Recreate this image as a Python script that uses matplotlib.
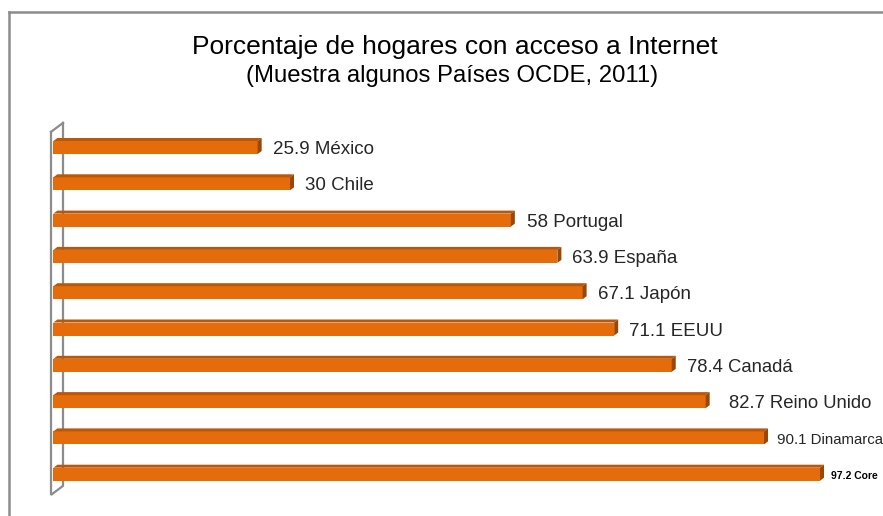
import matplotlib
matplotlib.use("Agg")
import matplotlib.pyplot as plt
from matplotlib.patches import Polygon
from matplotlib.lines import Line2D

# ---- data ----
countries = ["México", "Chile", "Portugal", "España", "Japón", "EEUU",
             "Canadá", "Reino Unido", "Dinamarca", "Core"]
values = [25.9, 30, 58, 63.9, 67.1, 71.1, 78.4, 82.7, 90.1, 97.2]
value_labels = ["25.9", "30", "58", "63.9", "67.1", "71.1", "78.4", "82.7", "90.1", "97.2"]
title = "Porcentaje de hogares con acceso a Internet"
subtitle = "(Muestra algunos Países OCDE, 2011)"

# ---- style ----
W, H, DPI = 883, 516, 100
FRONT = "#E46C0A"
TOP = "#B9580A"
SIDE = "#9A4706"
GRAY = "#8C8C8C"
TXT = "#262626"
sans = ["Liberation Sans", "DejaVu Sans"]
label_sizes = [13.5, 13.5, 13.5, 13.5, 13.5, 13.5, 13.3, 13.3, 10.8, 7.5]
gaps_px = [11, 11, 12, 11, 11, 11, 11, 19, 9, 7]

fig = plt.figure(figsize=(W / DPI, H / DPI), dpi=DPI)
fig.patch.set_facecolor("white")

# pixel geometry
x0_px, px_per_unit = 53.4, 7.887
y0_px, px_per_cat = 147.5, 36.3
ax = fig.add_axes([0, 0, 1, 1])
ax.set_xlim(-x0_px / px_per_unit, (W - x0_px) / px_per_unit)
ax.set_ylim((H - y0_px) / px_per_cat, -y0_px / px_per_cat)
ax.axis("off")

dx = 4 / px_per_unit
dy = 3 / px_per_cat
bh = 13 / px_per_cat

# 3D wall
wl_x = -2.4 / px_per_unit
wdx = 12 / px_per_unit
wdy = 9 / px_per_cat
yt, yb = -0.43, 9.57
ax.plot([wl_x, wl_x, wl_x + wdx, wl_x + wdx], [yt, yb, yb - wdy, yt - wdy],
        color=GRAY, lw=1.6, solid_joinstyle="miter", zorder=1)
ax.plot([wl_x, wl_x + wdx], [yt, yt - wdy], color=GRAY, lw=1.6, zorder=1)

pos = list(range(len(values)))
ax.barh(pos, values, height=bh, left=0, color=FRONT, edgecolor="none", zorder=3)
for p, v in zip(pos, values):
    top = p - bh / 2
    bot = p + bh / 2
    ax.add_patch(Polygon([(0, top), (dx, top - dy), (v + dx, top - dy), (v, top)],
                         closed=True, facecolor=TOP, edgecolor="none", zorder=3))
    ax.add_patch(Polygon([(v, top), (v + dx, top - dy), (v + dx, bot - dy), (v, bot)],
                         closed=True, facecolor=SIDE, edgecolor="none", zorder=3))

for p, v, lab, c, g, fs in zip(pos, values, value_labels, countries, gaps_px, label_sizes):
    small = (c == "Core")
    ax.text(v + dx + g / px_per_unit, p + 2 / px_per_cat, f"{lab} {c}",
            ha="left", va="center", fontsize=fs,
            family=sans, color="#000000" if small else TXT,
            fontweight="bold" if small else "normal", zorder=4)

# outer frame (extends beyond right and bottom)
fig.add_artist(Line2D([9 / W, 9 / W], [0, 1 - 12 / H], color=GRAY, lw=1.8,
                      transform=fig.transFigure))
fig.add_artist(Line2D([9 / W, 1], [1 - 12 / H, 1 - 12 / H], color=GRAY, lw=1.8,
                      transform=fig.transFigure))

fig.text(455 / W, 1 - 47 / H, title, ha="center", va="center", fontsize=19,
         family=sans, color="#000000")
fig.text(452 / W, 1 - 76 / H, subtitle, ha="center", va="center", fontsize=17.2,
         family=sans, color="#000000")

fig.savefig("out.png", dpi=DPI)
